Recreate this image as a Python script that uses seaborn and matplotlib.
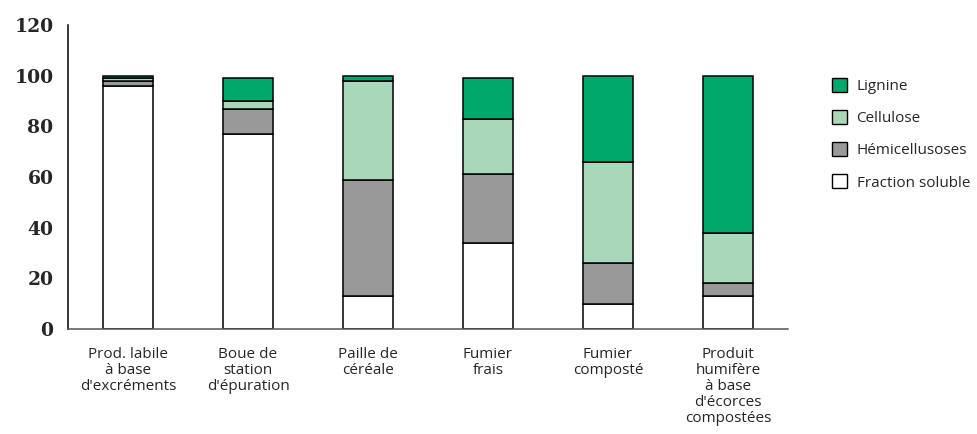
import numpy as np
import pandas as pd
import matplotlib
matplotlib.use('Agg')
import matplotlib.pyplot as plt
import matplotlib.patches as mpatches
import seaborn as sns

# Data (%)
categories = ["Prod. labile\nà base\nd'excréments", "Boue de\nstation\nd'épuration",
              "Paille de\ncéréale", "Fumier\nfrais", "Fumier\ncomposté",
              "Produit\nhumifère\nà base\nd'écorces\ncompostées"]
fraction_soluble = [96, 77, 13, 34, 10, 13]
hemicelluloses = [2, 10, 46, 27, 16, 5]
cellulose = [1, 3, 39, 22, 40, 20]
lignine = [1, 9, 2, 16, 34, 62]

components = ['Lignine', 'Cellulose', 'Hémicellusoses', 'Fraction soluble']
colors = {'Lignine': '#00a96b', 'Cellulose': '#a8d8b9',
          'Hémicellusoses': '#999999', 'Fraction soluble': '#ffffff'}

rows = []
for i, cat in enumerate(categories):
    for comp, vals in zip(components, [lignine, cellulose, hemicelluloses, fraction_soluble]):
        rows.append({'cat': cat, 'comp': comp, 'val': vals[i]})
df = pd.DataFrame(rows)

sns.set_style('white')
fig = plt.figure(figsize=(9.77, 4.34), dpi=100)
ax = fig.add_axes([68 / 977, 1 - 329 / 434, 720 / 977, 304 / 434])

sns.histplot(data=df, x='cat', weights='val', hue='comp', hue_order=components,
             multiple='stack', discrete=True, shrink=0.41, palette=colors,
             edgecolor='black', linewidth=1.1, alpha=1, legend=False, ax=ax)

ax.set_xlim(-0.5, 5.5)
ax.set_ylim(0, 120)
ax.set_xlabel('')
ax.set_ylabel('')

for s in ['top', 'right']:
    ax.spines[s].set_visible(False)
ax.spines['left'].set_color('black')
ax.spines['left'].set_linewidth(1.1)
ax.spines['bottom'].set_color('#555555')
ax.spines['bottom'].set_linewidth(1.1)

ax.set_yticks(np.arange(0, 121, 20))
ax.set_yticklabels([str(v) for v in range(0, 121, 20)],
                   fontfamily='DejaVu Serif', fontweight='bold', fontsize=13.5)
ax.tick_params(axis='y', direction='inout', length=11, width=1.1, color='black', pad=5)

ax.set_xticks(range(len(categories)))
ax.set_xticklabels(categories, fontfamily='Open Sans', fontsize=11,
                   linespacing=1.08, va='top')
ax.set_xticks(np.arange(-0.5, 6, 1), minor=True)
ax.tick_params(axis='x', which='major', length=0, pad=13)
ax.tick_params(axis='x', which='minor', direction='inout', length=11, width=1.1, color='#555555')

handles = [mpatches.Patch(facecolor=colors[c], edgecolor='black', linewidth=1, label=c)
           for c in components]
fig.legend(handles=handles, loc='upper left', bbox_to_anchor=(826 / 977, 1 - 72 / 434),
           frameon=False, prop={'family': 'Open Sans', 'size': 11},
           handlelength=1.0, handleheight=1.0, labelspacing=1.05, handletextpad=0.6,
           borderaxespad=0)

fig.savefig('out.png', dpi=100)
